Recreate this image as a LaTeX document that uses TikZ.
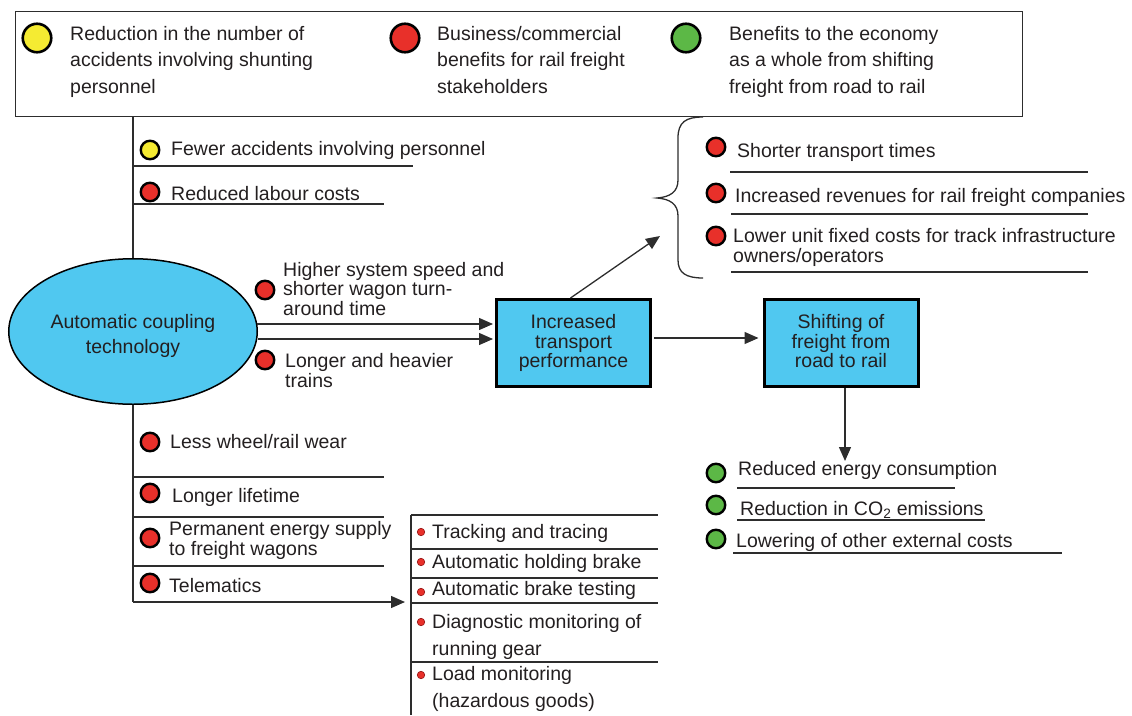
\documentclass[tikz,border=0pt]{standalone}
\usepackage{fontspec}
\setmainfont{Liberation Sans}
\usetikzlibrary{shapes.geometric,arrows.meta}
\definecolor{cyanF}{RGB}{80,200,240}
\definecolor{redc}{RGB}{232,48,42}
\definecolor{redD}{RGB}{150,20,20}
\definecolor{yel}{RGB}{245,235,50}
\definecolor{grn}{RGB}{92,184,70}
\definecolor{txtc}{RGB}{35,31,32}
\definecolor{lineC}{RGB}{45,45,45}
\begin{document}
\begin{tikzpicture}[x=1pt,y=-1pt,
  txt/.style={font=\fontsize{19.5}{20}\selectfont, inner sep=0pt, anchor=base west, align=left, text=txtc},
  legtxt/.style={txt, font=\fontsize{19.5}{26.5}\selectfont},
  tighttxt/.style={txt, font=\fontsize{19.5}{19.5}\selectfont},
  narrowtxt/.style={txt, font=\fontsize{19.5}{18}\selectfont},
  looser/.style={txt, font=\fontsize{19.5}{26.5}\selectfont},
  dotL/.style={circle, draw=black, line width=2.6pt, minimum size=28.5pt, inner sep=0pt},
  dotM/.style={circle, draw=black, line width=2.4pt, minimum size=18.5pt, inner sep=0pt},
  dotS/.style={circle, fill=redc, draw=redD, line width=0.6pt, minimum size=7.5pt, inner sep=0pt},
  rule/.style={line width=1.3pt, draw=lineC},
  arr/.style={line width=1.3pt, draw=lineC, -{Triangle[length=14pt,width=12pt]}},
  box/.style={draw=black, line width=3pt, fill=cyanF, minimum width=154pt, minimum height=87pt,
    inner sep=0pt, align=center, text=txtc, font=\fontsize{19.5}{19.5}\selectfont}
]
\useasboundingbox (0,0) rectangle (1132,715);

% legend box
\node[draw=lineC, line width=1.4pt, minimum width=1007pt, minimum height=105pt, inner sep=0pt, anchor=north west] (legend) at (15,11) {};
\node[dotL, fill=yel] (ly) at (37,38) {};
\node[legtxt] (lyt) at (70,93) {Reduction in the number of\\accidents involving shunting\\personnel};
\node[dotL, fill=redc] (lr) at (405,38) {};
\node[legtxt] (lrt) at (437,93) {Business/commercial\\benefits for rail freight\\stakeholders};
\node[dotL, fill=grn] (lg) at (686,38) {};
\node[legtxt] (lgt) at (729,93) {Benefits to the economy\\as a whole from shifting\\freight from road to rail};

% central ellipse
\node[ellipse, draw=black, line width=1.5pt, fill=cyanF, minimum width=248.5pt, minimum height=145.5pt,
  inner sep=0pt] (act) at (133,331.5) {};
\node[align=center, inner sep=0pt, text=txtc, font=\fontsize{19.5}{25}\selectfont] (actt) at ([yshift=-4pt]act.center) {Automatic coupling\\technology};

% spine
\coordinate (tel) at (133,602);
\coordinate (rltop) at (411,515);
\coordinate (rlbot) at (411,715);
\coordinate (telend) at (405,602);
\draw[rule] (act.north) -- (act.north |- legend.south);
\draw[rule] (act.south) -- (tel);
\draw[arr] (tel) -- (telend);

% upper-left items
\node[dotM, fill=yel] (d1) at (150,150) {};
\node[txt] (t1) at (171,155) {Fewer accidents involving personnel};
\draw[rule] (133,166) -- (413,166);
\node[dotM, fill=redc] (d2) at (150,192) {};
\node[txt] (t2) at (171,200) {Reduced labour costs};
\draw[rule] (133,204) -- (384,204);

% flow
\node[dotM, fill=redc] (d3) at (265,290) {};
\node[tighttxt] (t3) at (283,315) {Higher system speed and\\shorter wagon turn-\\around time};
\node[dotM, fill=redc] (d4) at (265,360) {};
\node[txt] (t4) at (285,387) {Longer and heavier\\trains};

\node[box] (itp) at (573.5,343) {Increased\\transport\\performance};
\node[box] (shift) at (841,343) {Shifting of\\freight from\\road to rail\vphantom{g}};

\coordinate (a1) at (257,324);
\coordinate (a2) at (258,339);
\draw[arr, shorten >=2pt] (a1) -- (a1 -| itp.west);
\draw[arr, shorten >=2pt] (a2) -- (a2 -| itp.west);
\draw[arr, shorten <=2pt, shorten >=4pt] ([yshift=5pt]itp.east) -- ([yshift=5pt]shift.west);
\coordinate (g0) at (845,461);
\draw[arr] (g0 |- shift.south) -- (g0);
\coordinate (bin) at (660,236);
\draw[arr] ([xshift=-3pt]itp.north) -- (bin);

% brace
\draw[rule] (703,117) .. controls (686,117) and (678,122) .. (678,138) -- (678,180)
  .. controls (678,192) and (670,197) .. (657,198)
  .. controls (670,199) and (678,204) .. (678,216) -- (678,260)
  .. controls (678,273) and (686,278) .. (703,278);

% red list right
\node[dotM, fill=redc] (r1) at (716,147) {};
\node[txt] (rt1) at (737,157) {Shorter transport times};
\draw[rule] (730,172) -- (1088,172);
\node[dotM, fill=redc] (r2) at (716,193) {};
\node[txt] (rt2) at (735,202) {Increased revenues for rail freight companies};
\draw[rule] (731,214) -- (1088,214);
\node[dotM, fill=redc] (r3) at (716,236) {};
\node[txt] (rt3) at (733,262) {Lower unit fixed costs for track infrastructure\\owners/operators};
\draw[rule] (731,272) -- (1088,272);

% green list
\node[dotM, fill=grn] (g1) at (716,473) {};
\node[txt] (gt1) at (738,475) {Reduced energy consumption};
\draw[rule] (737,488) -- (955,488);
\node[dotM, fill=grn] (g2) at (716,505) {};
\node[txt] (gt2) at (740,515) {Reduction in CO\textsubscript{2} emissions};
\draw[rule] (737,520) -- (985,520);
\node[dotM, fill=grn] (g3) at (716,539) {};
\node[txt] (gt3) at (736,547) {Lowering of other external costs};
\draw[rule] (733,553) -- (1062,553);

% lower-left items
\node[dotM, fill=redc] (b1) at (150,442) {};
\node[txt] (bt1) at (170,448) {Less wheel/rail wear};
\draw[rule] (133,477) -- (384,477);
\node[dotM, fill=redc] (b2) at (150,493) {};
\node[txt] (bt2) at (172,502) {Longer lifetime};
\draw[rule] (133,517) -- (384,517);
\node[dotM, fill=redc] (b3) at (150,538) {};
\node[narrowtxt] (bt3) at (169,555) {Permanent energy supply\\to freight wagons};
\draw[rule] (133,566) -- (384,566);
\node[dotM, fill=redc] (b4) at (150,583) {};
\node[txt] (bt4) at (169,592) {Telematics};

% telematics list
\draw[rule] (rltop) -- (rlbot);
\draw[rule] (rltop) -- (658,515);
\draw[rule] (411,549) -- (658,549);
\draw[rule] (411,578) -- (658,578);
\draw[rule] (411,603) -- (658,603);
\draw[rule] (411,662) -- (658,662);
\node[dotS] (s1) at (421,532) {};
\node[txt] (st1) at (432,538) {Tracking and tracing};
\node[dotS] (s2) at (421,562) {};
\node[txt] (st2) at (432,568) {Automatic holding brake};
\node[dotS] (s3) at (421,592) {};
\node[txt] (st3) at (432,595) {Automatic brake testing};
\node[dotS] (s4) at (421,622) {};
\node[looser] (st4) at (432,655) {Diagnostic monitoring of\\running gear};
\node[dotS] (s5) at (421,675) {};
\node[looser] (st5) at (432,707) {Load monitoring\\(hazardous goods)};
\end{tikzpicture}
\end{document}
